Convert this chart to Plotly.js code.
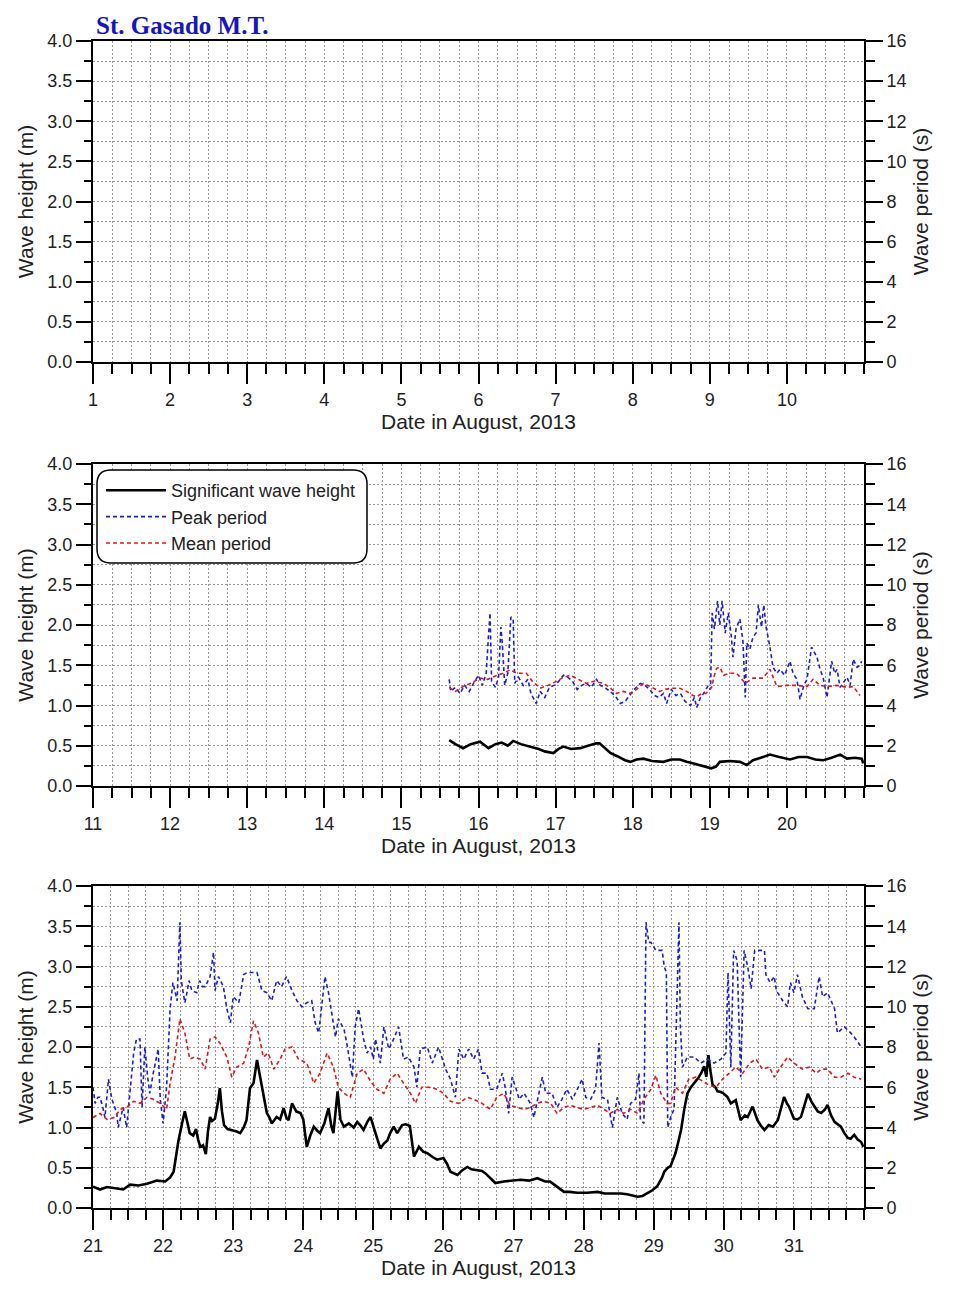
<!DOCTYPE html>
<html>
<head>
<meta charset="utf-8">
<script src="https://cdn.plot.ly/plotly-3.0.1.min.js"></script>
<style>html,body{margin:0;padding:0;background:#fff;}#chart{width:956px;height:1296px;}</style>
</head>
<body>
<div id="chart"></div>
<script>
// ---------- DATA (day of August 2013, value) ----------
const panelRanges = [[1, 11], [11, 21], [21, 32]];
const panelTicks = [[1,2,3,4,5,6,7,8,9,10], [11,12,13,14,15,16,17,18,19,20], [21,22,23,24,25,26,27,28,29,30,31]];
const xTitle = 'Date in August, 2013';
const leftTitle = 'Wave height (m)';
const rightTitle = 'Wave period (s)';
const seriesNames = ['Significant wave height', 'Peak period', 'Mean period'];

// Panel 1 (1-10 Aug): no data
const p1Hs = [];
const p1Tp = [];
const p1Tm = [];

// Panel 2 (11-20 Aug)
const p2Hs = [[15.62,0.57],[15.70,0.52],[15.80,0.47],[15.90,0.52],[16.02,0.55],[16.08,0.50],[16.13,0.47],[16.22,0.52],[16.30,0.54],[16.38,0.50],[16.45,0.56],[16.55,0.52],[16.67,0.49],[16.78,0.46],[16.86,0.43],[16.97,0.41],[17.04,0.46],[17.10,0.49],[17.20,0.46],[17.32,0.47],[17.42,0.50],[17.53,0.53],[17.57,0.53],[17.64,0.47],[17.71,0.41],[17.80,0.37],[17.90,0.32],[17.97,0.30],[18.05,0.33],[18.14,0.34],[18.25,0.31],[18.40,0.30],[18.50,0.33],[18.61,0.33],[18.70,0.30],[18.79,0.28],[18.87,0.26],[18.96,0.23],[19.02,0.22],[19.08,0.24],[19.13,0.30],[19.26,0.31],[19.39,0.30],[19.48,0.26],[19.56,0.32],[19.66,0.35],[19.78,0.39],[19.90,0.36],[20.04,0.33],[20.15,0.36],[20.26,0.36],[20.37,0.33],[20.47,0.32],[20.58,0.35],[20.69,0.39],[20.78,0.34],[20.88,0.35],[20.97,0.34],[20.99,0.28]];
const p2Tp = [[15.62,5.3],[15.64,4.7],[15.70,4.9],[15.76,4.6],[15.82,5.0],[15.88,4.7],[15.95,5.2],[16.00,5.5],[16.05,5.0],[16.10,5.6],[16.13,7.5],[16.15,8.6],[16.17,5.2],[16.22,4.9],[16.26,5.4],[16.29,7.9],[16.31,7.0],[16.34,5.0],[16.38,5.6],[16.42,8.4],[16.45,8.3],[16.47,5.1],[16.52,5.4],[16.58,5.0],[16.64,5.3],[16.68,4.6],[16.72,4.3],[16.75,4.1],[16.80,4.7],[16.86,4.4],[16.92,4.9],[16.98,5.0],[17.04,5.2],[17.10,5.5],[17.16,5.4],[17.22,5.2],[17.28,4.8],[17.34,5.0],[17.40,5.1],[17.46,4.9],[17.53,5.3],[17.58,5.0],[17.64,4.9],[17.71,4.7],[17.77,4.5],[17.84,4.1],[17.90,4.2],[17.96,4.5],[18.02,4.8],[18.10,5.1],[18.16,5.0],[18.22,4.8],[18.28,4.5],[18.34,4.4],[18.40,4.6],[18.44,4.1],[18.50,4.8],[18.56,4.5],[18.62,4.6],[18.68,4.2],[18.75,4.0],[18.80,4.4],[18.83,3.9],[18.88,4.4],[18.92,4.6],[18.98,5.0],[19.01,4.8],[19.03,8.6],[19.06,7.8],[19.10,9.2],[19.13,8.0],[19.16,9.2],[19.20,7.6],[19.24,8.6],[19.28,7.4],[19.30,6.4],[19.34,7.8],[19.39,8.3],[19.43,7.2],[19.46,4.4],[19.48,7.1],[19.52,6.8],[19.56,7.4],[19.60,7.6],[19.63,9.0],[19.67,7.9],[19.70,9.0],[19.73,7.9],[19.78,6.9],[19.82,5.9],[19.87,5.6],[19.91,5.8],[19.97,5.5],[20.04,6.2],[20.08,5.6],[20.13,5.3],[20.17,4.3],[20.22,5.0],[20.26,5.3],[20.32,6.9],[20.36,6.6],[20.39,6.4],[20.43,5.8],[20.47,5.4],[20.52,4.4],[20.55,5.4],[20.58,6.2],[20.62,5.6],[20.65,5.8],[20.69,4.9],[20.74,5.2],[20.78,5.4],[20.82,5.0],[20.86,6.3],[20.91,5.9],[20.95,6.0],[20.97,6.2]];
const p2Tm = [[15.62,4.9],[15.70,4.7],[15.80,4.94],[15.90,5.1],[16.02,5.36],[16.12,5.3],[16.24,5.5],[16.32,5.6],[16.41,5.77],[16.50,5.6],[16.62,5.6],[16.70,5.2],[16.80,4.86],[16.90,5.0],[17.01,5.2],[17.10,5.4],[17.19,5.5],[17.30,5.3],[17.40,5.1],[17.50,5.2],[17.62,5.1],[17.70,4.9],[17.79,4.6],[17.88,4.7],[17.97,4.6],[18.05,4.8],[18.14,5.1],[18.25,4.9],[18.35,4.7],[18.42,4.8],[18.50,4.86],[18.61,4.86],[18.70,4.7],[18.78,4.5],[18.83,4.44],[18.90,4.6],[18.95,4.6],[19.03,4.94],[19.05,5.4],[19.09,5.85],[19.13,5.9],[19.18,5.5],[19.26,5.6],[19.35,5.6],[19.41,5.3],[19.46,5.1],[19.56,5.36],[19.69,5.36],[19.78,5.8],[19.83,5.3],[19.87,4.94],[20.00,5.0],[20.13,5.0],[20.26,4.94],[20.34,5.3],[20.43,5.0],[20.52,4.94],[20.65,5.0],[20.78,4.9],[20.86,4.94],[20.95,4.5]];

// Panel 3 (21-31 Aug)
const p3Hs = [[21.00,0.265],[21.06,0.24],[21.10,0.23],[21.20,0.26],[21.30,0.25],[21.43,0.23],[21.53,0.29],[21.65,0.28],[21.77,0.30],[21.85,0.32],[21.91,0.34],[22.03,0.33],[22.10,0.38],[22.15,0.45],[22.22,0.84],[22.27,1.05],[22.31,1.20],[22.35,1.05],[22.38,0.93],[22.43,0.90],[22.47,0.98],[22.50,0.85],[22.53,0.76],[22.57,0.78],[22.61,0.67],[22.64,0.95],[22.67,1.13],[22.70,1.08],[22.74,1.11],[22.78,1.30],[22.81,1.49],[22.84,1.20],[22.87,1.03],[22.92,0.98],[22.98,0.97],[23.05,0.95],[23.10,0.93],[23.15,1.00],[23.19,1.09],[23.24,1.49],[23.29,1.55],[23.34,1.84],[23.38,1.65],[23.41,1.51],[23.45,1.35],[23.48,1.18],[23.52,1.12],[23.55,1.05],[23.62,1.13],[23.67,1.10],[23.72,1.24],[23.76,1.12],[23.79,1.09],[23.84,1.30],[23.90,1.20],[23.96,1.18],[24.00,1.10],[24.05,0.76],[24.10,0.90],[24.15,1.01],[24.20,0.96],[24.24,0.93],[24.30,1.05],[24.36,1.24],[24.40,1.02],[24.43,0.93],[24.49,1.45],[24.53,1.10],[24.58,1.01],[24.65,1.05],[24.72,1.00],[24.77,1.07],[24.82,1.02],[24.86,0.97],[24.92,1.08],[24.96,1.13],[25.03,0.93],[25.10,0.74],[25.15,0.80],[25.20,0.84],[25.24,0.93],[25.29,1.01],[25.34,0.93],[25.41,1.03],[25.46,1.04],[25.52,1.02],[25.58,0.64],[25.65,0.76],[25.71,0.70],[25.77,0.68],[25.85,0.63],[25.91,0.60],[26.00,0.62],[26.05,0.55],[26.10,0.45],[26.20,0.41],[26.27,0.47],[26.34,0.51],[26.40,0.48],[26.48,0.47],[26.55,0.46],[26.60,0.43],[26.67,0.37],[26.74,0.31],[26.86,0.33],[27.00,0.34],[27.10,0.35],[27.22,0.34],[27.34,0.37],[27.45,0.33],[27.52,0.33],[27.58,0.29],[27.65,0.25],[27.72,0.20],[27.80,0.20],[27.91,0.19],[28.05,0.19],[28.20,0.20],[28.30,0.18],[28.43,0.18],[28.53,0.18],[28.62,0.17],[28.70,0.15],[28.77,0.14],[28.84,0.15],[28.91,0.18],[28.98,0.22],[29.05,0.27],[29.12,0.38],[29.15,0.45],[29.20,0.50],[29.24,0.52],[29.28,0.60],[29.31,0.68],[29.35,0.82],[29.39,0.97],[29.44,1.25],[29.48,1.42],[29.53,1.50],[29.58,1.55],[29.64,1.62],[29.68,1.68],[29.72,1.76],[29.75,1.63],[29.78,1.90],[29.81,1.70],[29.84,1.53],[29.88,1.50],[29.91,1.45],[29.96,1.44],[30.00,1.42],[30.05,1.38],[30.10,1.30],[30.17,1.34],[30.21,1.20],[30.24,1.09],[30.30,1.15],[30.34,1.13],[30.41,1.26],[30.45,1.15],[30.48,1.09],[30.53,1.02],[30.58,0.97],[30.64,1.03],[30.70,1.01],[30.77,1.09],[30.82,1.25],[30.86,1.38],[30.90,1.30],[30.93,1.26],[31.00,1.11],[31.05,1.10],[31.10,1.13],[31.16,1.30],[31.20,1.42],[31.25,1.32],[31.29,1.26],[31.34,1.20],[31.39,1.18],[31.44,1.22],[31.48,1.28],[31.53,1.15],[31.58,1.07],[31.63,1.04],[31.67,1.01],[31.72,0.93],[31.77,0.87],[31.81,0.86],[31.86,0.91],[31.91,0.85],[31.96,0.82],[31.99,0.76]];
const p3Tp = [[21.00,6.0],[21.03,5.2],[21.07,5.5],[21.10,5.5],[21.14,5.0],[21.17,4.5],[21.20,5.6],[21.22,6.4],[21.27,5.4],[21.31,5.0],[21.34,4.7],[21.36,4.0],[21.40,4.6],[21.43,5.0],[21.48,4.0],[21.53,5.7],[21.58,7.7],[21.62,8.4],[21.67,8.4],[21.70,5.0],[21.74,8.0],[21.78,6.5],[21.81,5.7],[21.86,6.7],[21.93,7.9],[21.96,5.4],[22.00,4.2],[22.05,6.0],[22.10,9.9],[22.14,11.2],[22.20,10.3],[22.24,14.2],[22.26,11.3],[22.31,10.2],[22.33,10.5],[22.37,11.3],[22.41,10.8],[22.48,10.7],[22.52,11.3],[22.56,11.0],[22.60,11.0],[22.67,11.5],[22.72,12.7],[22.74,10.8],[22.79,11.5],[22.86,11.0],[22.91,9.9],[22.96,9.2],[23.00,10.5],[23.08,10.2],[23.15,11.6],[23.20,11.7],[23.24,11.7],[23.30,11.7],[23.34,11.7],[23.41,10.8],[23.48,10.7],[23.55,10.3],[23.62,11.3],[23.69,11.0],[23.76,11.5],[23.84,10.8],[23.91,10.3],[23.98,10.0],[24.05,10.2],[24.12,10.3],[24.17,9.2],[24.22,8.7],[24.26,9.9],[24.31,11.5],[24.36,10.7],[24.41,9.7],[24.46,8.5],[24.50,9.4],[24.58,8.9],[24.62,8.2],[24.70,6.5],[24.74,9.0],[24.79,9.9],[24.86,8.4],[24.91,7.7],[24.96,8.0],[25.00,7.4],[25.03,8.4],[25.10,7.2],[25.15,9.0],[25.22,7.9],[25.29,8.4],[25.36,9.0],[25.43,7.4],[25.50,7.5],[25.58,7.0],[25.62,6.0],[25.67,7.9],[25.77,8.0],[25.84,7.2],[25.93,8.0],[26.03,6.9],[26.10,6.4],[26.17,5.5],[26.22,7.9],[26.29,7.4],[26.36,7.9],[26.43,7.4],[26.50,7.9],[26.55,6.7],[26.62,6.7],[26.67,5.9],[26.76,5.9],[26.84,6.7],[26.88,6.0],[26.93,4.7],[26.98,6.5],[27.03,6.0],[27.08,5.4],[27.15,5.7],[27.24,5.2],[27.29,4.5],[27.34,5.4],[27.41,6.5],[27.46,5.7],[27.55,5.7],[27.62,5.0],[27.69,5.4],[27.76,5.9],[27.84,5.4],[27.91,5.9],[27.98,6.4],[28.03,5.5],[28.10,5.4],[28.17,5.9],[28.22,8.2],[28.26,5.5],[28.34,5.4],[28.41,4.0],[28.48,5.5],[28.55,4.7],[28.62,4.4],[28.67,5.2],[28.74,5.4],[28.79,6.7],[28.81,4.4],[28.86,4.2],[28.89,14.2],[28.93,13.2],[28.96,13.2],[29.03,12.8],[29.12,12.8],[29.15,12.0],[29.18,11.7],[29.20,4.0],[29.25,4.6],[29.29,4.9],[29.36,14.2],[29.38,9.0],[29.41,7.0],[29.48,7.5],[29.58,7.5],[29.67,7.2],[29.77,7.4],[29.86,7.2],[29.96,7.4],[30.03,7.7],[30.06,11.7],[30.10,7.0],[30.14,12.8],[30.19,12.3],[30.24,6.5],[30.29,12.8],[30.34,12.0],[30.39,10.9],[30.44,12.8],[30.48,12.8],[30.58,12.8],[30.60,11.6],[30.66,11.2],[30.72,11.5],[30.75,10.8],[30.84,10.3],[30.91,10.0],[30.95,11.2],[31.00,10.7],[31.05,11.6],[31.12,10.5],[31.20,9.9],[31.29,9.9],[31.36,11.5],[31.41,10.5],[31.48,10.7],[31.58,9.9],[31.62,8.7],[31.72,9.0],[31.81,8.7],[31.86,8.5],[31.96,8.0]];
const p3Tm = [[21.00,4.5],[21.10,4.7],[21.20,4.4],[21.30,4.5],[21.39,4.9],[21.48,5.0],[21.58,5.3],[21.67,5.2],[21.77,5.5],[21.86,5.4],[21.96,5.2],[22.05,4.9],[22.10,6.2],[22.17,7.5],[22.24,9.4],[22.31,8.7],[22.38,7.4],[22.45,7.5],[22.53,7.4],[22.60,6.9],[22.67,8.4],[22.74,8.5],[22.81,8.2],[22.91,7.5],[22.98,6.5],[23.05,7.0],[23.15,7.2],[23.22,8.0],[23.29,9.3],[23.36,8.7],[23.43,7.5],[23.50,7.7],[23.58,6.9],[23.67,7.4],[23.74,7.9],[23.84,8.0],[23.93,7.4],[24.05,7.2],[24.15,6.2],[24.24,6.7],[24.34,7.7],[24.43,7.0],[24.50,6.0],[24.58,5.7],[24.67,5.5],[24.77,6.7],[24.86,6.9],[24.96,6.3],[25.05,5.9],[25.15,5.7],[25.24,6.4],[25.34,6.7],[25.43,6.2],[25.53,5.7],[25.60,5.2],[25.69,6.0],[25.79,6.0],[25.91,5.9],[26.00,5.7],[26.10,5.3],[26.22,5.2],[26.34,5.5],[26.43,5.4],[26.55,5.2],[26.67,4.9],[26.76,5.5],[26.86,5.7],[26.95,5.1],[27.05,5.0],[27.15,4.9],[27.24,5.0],[27.34,5.2],[27.43,5.3],[27.53,5.2],[27.62,4.7],[27.72,5.0],[27.81,5.1],[27.91,5.0],[28.00,4.9],[28.10,5.0],[28.20,5.1],[28.29,4.9],[28.38,4.7],[28.48,4.9],[28.57,4.7],[28.67,4.9],[28.77,4.7],[28.86,5.4],[28.96,5.9],[29.03,6.6],[29.10,5.7],[29.19,5.2],[29.24,5.2],[29.31,6.0],[29.41,5.7],[29.50,6.4],[29.60,6.5],[29.70,6.3],[29.79,6.1],[29.89,6.0],[29.98,6.4],[30.08,6.7],[30.17,7.0],[30.27,6.7],[30.37,7.2],[30.46,7.4],[30.55,6.9],[30.65,7.0],[30.72,6.5],[30.81,7.0],[30.91,7.5],[31.00,7.2],[31.12,6.9],[31.22,7.0],[31.32,6.7],[31.39,6.9],[31.48,6.9],[31.58,6.5],[31.67,6.5],[31.77,6.7],[31.86,6.5],[31.96,6.4]];

// ---------- LAYOUT ----------
const W = 956, H = 1296;
const fx = p => p / W;
const fy = p => 1 - p / H;
const plotLeft = 93, plotRight = 864;
const panelPx = [[41, 362], [464, 786], [886, 1208]];
const allData = [[p1Hs, p1Tp, p1Tm], [p2Hs, p2Tp, p2Tm], [p3Hs, p3Tp, p3Tm]];

const gridStyle = {gridcolor: '#9a9a9a', griddash: '2px,2px', gridwidth: 1};
const tickFont = {family: 'Arial, Liberation Sans, sans-serif', size: 18, color: '#222'};
const titleFont = {family: 'Arial, Liberation Sans, sans-serif', size: 21, color: '#222'};

const layout = {
  width: W, height: H,
  margin: {l: 0, r: 0, t: 0, b: 0},
  paper_bgcolor: '#fff', plot_bgcolor: '#fff',
  font: {family: 'Arial, Liberation Sans, sans-serif', color: '#222'},
  showlegend: true,
  legend: {
    x: fx(101), y: fy(472), xanchor: 'left', yanchor: 'top',
    bgcolor: 'rgba(0,0,0,0)', borderwidth: 0,
    font: {family: 'Arial, Liberation Sans, sans-serif', size: 18, color: '#222'},
    itemwidth: 60, traceorder: 'normal'
  },
  annotations: [{
    text: '<b>St. Gasado M.T.</b>', xref: 'paper', yref: 'paper',
    x: fx(94), y: fy(25), xanchor: 'left', yanchor: 'middle', showarrow: false,
    font: {family: 'Liberation Serif, Times New Roman, serif', size: 25, color: '#1414c8'}
  }],
  shapes: []
};

const traces = [];
const colors = ['#000000', '#1c1cdc', '#e01818'];

panelPx.forEach((pp, i) => {
  const n = i + 1;
  const xk = n === 1 ? 'xaxis' : 'xaxis' + n;
  const xr = n === 1 ? 'x' : 'x' + n;
  const yl = 2 * n - 1, yr = 2 * n;
  const ylk = yl === 1 ? 'yaxis' : 'yaxis' + yl;
  const ylr = yl === 1 ? 'y' : 'y' + yl;
  const yrk = 'yaxis' + yr, yrr = 'y' + yr;
  const rng = panelRanges[i];
  const yDom = [fy(pp[1]), fy(pp[0])];

  layout[xk] = Object.assign({
    domain: [fx(plotLeft), fx(plotRight)], anchor: ylr,
    range: [rng[0], rng[1]], tickmode: 'array', tickvals: panelTicks[i], ticktext: panelTicks[i].map(String),
    ticks: 'outside', ticklen: 20, tickwidth: 2, tickcolor: '#000',
    showline: true, linewidth: 2, linecolor: '#000', mirror: true,
    showgrid: true, zeroline: false, tickfont: tickFont,
    minor: Object.assign({tickmode: 'linear', dtick: 0.25, tick0: rng[0], ticks: 'outside', ticklen: 10, tickwidth: 2, tickcolor: '#000', showgrid: true}, gridStyle),
    title: {text: xTitle, font: titleFont, standoff: 6}
  }, gridStyle);

  layout[ylk] = Object.assign({
    domain: yDom, anchor: xr, range: [0, 4], tickmode: 'linear', tick0: 0, dtick: 0.5, tickformat: '.1f',
    ticks: 'outside', ticklen: 15, tickwidth: 2, tickcolor: '#000',
    showline: true, linewidth: 2, linecolor: '#000',
    showgrid: true, zeroline: false, tickfont: tickFont,
    minor: Object.assign({dtick: 0.25, tick0: 0, ticks: 'outside', ticklen: 7, tickwidth: 2, tickcolor: '#000', showgrid: true}, gridStyle),
    title: {text: leftTitle, font: titleFont, standoff: 8}
  }, gridStyle);

  layout[yrk] = {
    overlaying: ylr, side: 'right', anchor: xr, range: [0, 16], tickmode: 'linear', tick0: 0, dtick: 2,
    ticks: 'outside', ticklen: 17, tickwidth: 2, tickcolor: '#000',
    showline: true, linewidth: 2, linecolor: '#000',
    showgrid: false, zeroline: false, tickfont: tickFont,
    minor: {dtick: 1, tick0: 0, ticks: 'outside', ticklen: 9, tickwidth: 2, tickcolor: '#000', showgrid: false},
    title: {text: rightTitle, font: titleFont, standoff: 8}
  };

  const [hs, tp, tm] = allData[i];
  const leg = (n === 2);
  traces.push({x: hs.map(d => d[0]), y: hs.map(d => d[1]), xaxis: xr, yaxis: ylr, type: 'scatter', mode: 'lines',
    name: seriesNames[0], showlegend: leg, line: {color: colors[0], width: 2.6}});
  traces.push({x: tp.map(d => d[0]), y: tp.map(d => d[1]), xaxis: xr, yaxis: yrr, type: 'scatter', mode: 'lines',
    name: seriesNames[1], showlegend: leg, line: {color: colors[1], width: 1.6, dash: '4px,3px'}});
  traces.push({x: tm.map(d => d[0]), y: tm.map(d => d[1]), xaxis: xr, yaxis: yrr, type: 'scatter', mode: 'lines',
    name: seriesNames[2], showlegend: leg, line: {color: colors[2], width: 1.6, dash: '4px,3px'}});
});

// rounded legend frame
(function () {
  const x0 = fx(97), x1 = fx(367), y0 = fy(563), y1 = fy(470);
  const rx = 14 / W, ry = 14 / H;
  const p = `M ${x0 + rx},${y1} L ${x1 - rx},${y1} Q ${x1},${y1} ${x1},${y1 - ry} L ${x1},${y0 + ry} Q ${x1},${y0} ${x1 - rx},${y0} L ${x0 + rx},${y0} Q ${x0},${y0} ${x0},${y0 + ry} L ${x0},${y1 - ry} Q ${x0},${y1} ${x0 + rx},${y1} Z`;
  layout.shapes.push({type: 'path', xref: 'paper', yref: 'paper', path: p,
    line: {color: '#000', width: 1.5}, fillcolor: 'rgba(255,255,255,1)', layer: 'above'});
})();

Plotly.newPlot('chart', traces, layout, {staticPlot: true, displayModeBar: false});
</script>
</body>
</html>
